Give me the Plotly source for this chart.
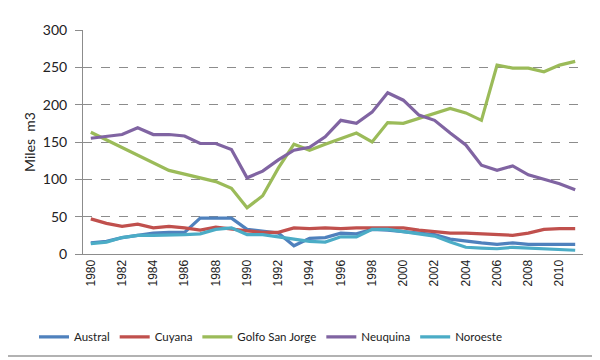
import plotly.graph_objects as go

years = list(range(1980, 2012))

austral = [15, 17, 22, 25, 28, 29, 29, 48, 48, 48, 33, 31, 28, 11, 21, 22, 28, 27, 33, 32,
           30, 28, 26, 20, 17, 15, 13, 15, 13, 13, 13, 13]
cuyana = [47, 41, 37, 40, 35, 37, 35, 32, 36, 33, 31, 29, 29, 35, 34, 35, 34, 35, 35, 36,
          35, 32, 30, 28, 28, 27, 25, 25, 28, 33, 34, 34]
golfo = [163, 153, 143, 133, 123, 112, 107, 102, 97, 88, 62, 78, 115, 147, 139, 147, 154, 162, 150, 176,
         175, 182, 189, 195, 189, 179, 253, 249, 249, 244, 253, 258]
neuquina = [155, 158, 160, 169, 160, 160, 158, 148, 148, 140, 102, 111, 126, 139, 143, 157, 179, 175, 190, 216,
            206, 186, 179, 162, 146, 119, 112, 118, 106, 100, 94, 86]
noroeste = [14, 16, 22, 25, 25, 25, 26, 27, 33, 35, 26, 26, 23, 19, 17, 16, 23, 23, 33, 33,
            30, 28, 24, 16, 9, 8, 7, 9, 8, 8, 7, 5]

series = [
    ("Austral", austral, "#4F81BD"),
    ("Cuyana", cuyana, "#C0504D"),
    ("Golfo San Jorge", golfo, "#9BBB59"),
    ("Neuquina", neuquina, "#8064A2"),
    ("Noroeste", noroeste, "#4BACC6"),
]

fig = go.Figure()
for name, vals, col in series:
    fig.add_trace(go.Scatter(x=years, y=vals, name=name, mode="lines",
                             line=dict(color=col, width=3.2)))

fig.update_layout(
    width=592, height=352,
    paper_bgcolor="white", plot_bgcolor="white",
    margin=dict(l=75, r=17, t=22, b=106, autoexpand=False),
    font=dict(family="Lato, Liberation Sans, sans-serif", color="#222"),
    showlegend=True,
    legend=dict(orientation="h", x=0.375, xanchor="center", y=-0.305, yanchor="top",
                font=dict(size=11.5, color="#222"), itemwidth=30, tracegroupgap=0,
                bgcolor="rgba(0,0,0,0)"),
    xaxis=dict(range=[1979.5, 2011.5], tickmode="array",
               tickvals=list(range(1980, 2012, 2)),
               ticktext=[str(y) for y in range(1980, 2012, 2)],
               tickangle=-90, tickfont=dict(family="Liberation Sans, Arial", size=12, color="#222"),
               showgrid=False, zeroline=False, showline=True, linecolor="#8c8c8c", linewidth=1,
               ticks="", fixedrange=True),
    yaxis=dict(range=[0, 300], tickvals=[0, 50, 100, 150, 200, 250, 300],
               tickfont=dict(size=14, color="#222"),
               showgrid=True, gridcolor="#8c8c8c", griddash="dash", gridwidth=1,
               zeroline=False, showline=True, linecolor="#8c8c8c", linewidth=1,
               ticks="outside", ticklen=7, tickcolor="#8c8c8c", ticklabelstandoff=5,
               title=dict(text="Miles  m3", font=dict(size=14, color="#222"), standoff=3)),
    shapes=[dict(type="line", xref="paper", yref="paper", x0=-0.2, x1=1.1, y0=-0.455, y1=-0.455,
                 line=dict(color="#999", width=1.5))],
)

fig.write_html("out.html")
